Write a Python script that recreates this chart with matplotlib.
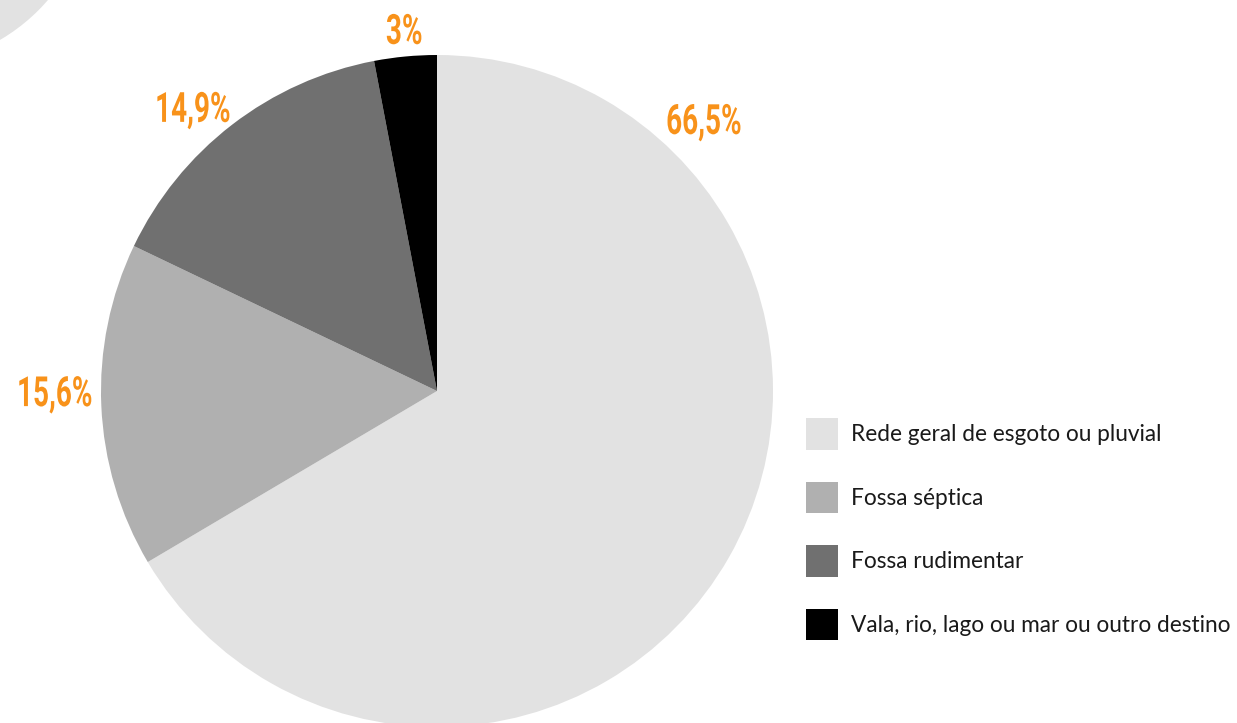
import matplotlib
matplotlib.use("Agg")
import matplotlib.pyplot as plt
from matplotlib.patches import Circle
from matplotlib.patheffects import AbstractPathEffect
from matplotlib.transforms import Affine2D

# ---- data ----
categories = [
    "Rede geral de esgoto ou pluvial",
    "Fossa séptica",
    "Fossa rudimentar",
    "Vala, rio, lago ou mar ou outro destino",
]
values = [66.5, 15.6, 14.9, 3.0]
value_labels = ["66,5%", "15,6%", "14,9%", "3%"]
colors = ["#e2e2e2", "#b0b0b0", "#707070", "#000000"]

# label anchor positions (left/baseline, pie data units, radius = 1)
label_pos = [(0.682, 0.765), (-1.250, -0.045), (-0.839, 0.801), (-0.152, 1.033)]

ORANGE = "#f8921a"


class Condense(AbstractPathEffect):
    """Horizontally compress glyph outlines about the text origin."""

    def __init__(self, sx):
        super().__init__()
        self.sx = sx

    def draw_path(self, renderer, gc, tpath, affine, rgbFace=None):
        t = Affine2D().scale(self.sx, 1) + affine
        renderer.draw_path(gc, tpath, t, rgbFace)


W, H = 1237, 723
fig = plt.figure(figsize=(W / 100, H / 100), dpi=100)
fig.patch.set_facecolor("white")

# decorative corner shape
fig.add_artist(Circle((-0.96, 8.47), 1.90, transform=fig.dpi_scale_trans,
                      facecolor="#e2e2e2", edgecolor="none", zorder=0))

cx, cy, r = 437, 391, 336
ax = fig.add_axes([(cx - r) / W, (H - (cy + r)) / H, 2 * r / W, 2 * r / H])
wedges, _ = ax.pie(values, colors=colors, startangle=90, counterclock=False,
                   radius=1, wedgeprops=dict(linewidth=0, antialiased=True))
ax.set_xlim(-1, 1)
ax.set_ylim(-1, 1)
ax.set_aspect("equal")
ax.axis("off")

for lab, (x, y) in zip(value_labels, label_pos):
    ax.text(x, y, lab, ha="left", va="baseline", fontsize=30,
            family=["Roboto", "DejaVu Sans"], fontweight="bold", color=ORANGE,
            path_effects=[Condense(0.67)], clip_on=False)

fs = 16.3
fs_px = fs * 100 / 72
leg = fig.legend(wedges, categories, loc="upper left",
                 bbox_to_anchor=(806 / W, 1 - 418 / H), frameon=False,
                 borderpad=0, borderaxespad=0,
                 prop=dict(family=["Lato", "DejaVu Sans"], size=fs),
                 handlelength=32 / fs_px, handleheight=1.77,
                 handletextpad=13 / fs_px, labelspacing=32 / fs_px)
for t in leg.get_texts():
    t.set_color("#1a1a1a")

fig.savefig("out.png", dpi=100)
